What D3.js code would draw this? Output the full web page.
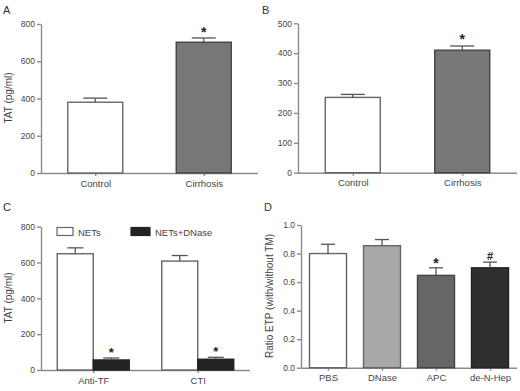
<!DOCTYPE html>
<html><head><meta charset="utf-8">
<script src="https://cdn.jsdelivr.net/npm/d3@7"></script>
<style>body{margin:0;background:#fff}svg{display:block;font-family:"Liberation Sans",Arial,sans-serif}</style>
</head><body><svg id="c" width="520" height="391"></svg>
<script>
// Panel A
const catsA = ["Control", "Cirrhosis"];
const valsA = [380, 702];
const errA = [22, 23];
const ticksA = [0, 200, 400, 600, 800];
// Panel B
const catsB = ["Control", "Cirrhosis"];
const valsB = [252, 410];
const errB = [10, 14];
const ticksB = [0, 100, 200, 300, 400, 500];
// Panel C
const groupsC = ["Anti-TF", "CTI"];
const seriesC = ["NETs", "NETs+DNase"];
const netsC = [649, 608];
const netsErrC = [33, 31];
const dnaseC = [56, 60];
const dnaseErrC = [11, 11];
const ticksC = [0, 200, 400, 600, 800];
// Panel D
const catsD = ["PBS", "DNase", "APC", "de-N-Hep"];
const valsD = [0.80, 0.855, 0.647, 0.70];
const errD = [0.065, 0.043, 0.053, 0.04];
const marksD = ["", "", "*", "#"];
const ticksD = [0, 0.2, 0.4, 0.6, 0.8, 1.0];

const svg = d3.select("#c");
const axisCol = "#8c8c8c", textCol = "#444";

function styleAxis(g){
  g.selectAll("path,line").attr("stroke", axisCol).attr("stroke-width", 1.4);
  g.selectAll("text").attr("fill", textCol);
}

function panel(o){
  const y = d3.scaleLinear().domain(o.ydom).range([o.y0, o.y1]);
  const x = d3.scalePoint().domain(o.cats).range([o.x0, o.x1]).padding(0.5);
  const g = svg.append("g");
  const ya = g.append("g").attr("transform", `translate(${o.x0},0)`)
    .call(d3.axisLeft(y).tickValues(o.ticks).tickSize(4).tickSizeOuter(0).tickPadding(2).tickFormat(o.fmt || d3.format("d")));
  ya.selectAll("text").attr("font-size", 8.5);
  styleAxis(ya);
  const xa = g.append("g").attr("transform", `translate(0,${o.y0})`)
    .call(d3.axisBottom(x).tickSize(3).tickSizeOuter(0).tickPadding(4));
  xa.selectAll("text").attr("font-size", 9.5);
  styleAxis(xa);
  xa.select(".domain").attr("d", `M${o.x0},0.5H${o.x1}`);
  return {g, x, y};
}

function bar(g, cx, w, yv, y0, fill, stroke){
  g.append("rect").attr("x", cx - w/2).attr("y", yv).attr("width", w).attr("height", y0 - yv)
    .attr("fill", fill).attr("stroke", stroke).attr("stroke-width", 1.4);
}
function errbar(g, cx, ytop, yerr, cap){
  g.append("line").attr("x1", cx).attr("x2", cx).attr("y1", ytop).attr("y2", yerr).attr("stroke", "#555").attr("stroke-width", 1.3);
  g.append("line").attr("x1", cx - cap/2).attr("x2", cx + cap/2).attr("y1", yerr).attr("y2", yerr).attr("stroke", "#555").attr("stroke-width", 1.3);
}
function mark(g, cx, yy, t, size){
  g.append("text").attr("x", cx).attr("y", yy).attr("text-anchor", "middle").attr("font-size", size || 14)
    .attr("font-weight", "bold").attr("fill", "#222").text(t);
}
function ylabel(x, cy, t){
  svg.append("text").attr("transform", `translate(${x},${cy}) rotate(-90)`).attr("text-anchor", "middle")
    .attr("font-size", 10).attr("fill", textCol).text(t);
}
function letter(x, y, t){
  svg.append("text").attr("x", x).attr("y", y).attr("font-size", 11).attr("fill", "#333").text(t);
}

// A
{
  const p = panel({ydom:[0,800], y0:173, y1:24, cats:catsA, x0:41, x1:258, ticks:ticksA});
  const fills = ["#fff", "#777"], strokes = ["#666", "#444"];
  catsA.forEach((c,i)=>{
    const cx = p.x(c);
    bar(p.g, cx, 55, p.y(valsA[i]), p.y(0), fills[i], strokes[i]);
    errbar(p.g, cx, p.y(valsA[i]), p.y(valsA[i]+errA[i]), 24);
  });
  mark(p.g, p.x(catsA[1]), p.y(valsA[1]+errA[1]) - 1, "*");
  ylabel(12, 98, "TAT (pg/ml)");
  letter(3, 14, "A");
}
// B
{
  const p = panel({ydom:[0,500], y0:172.7, y1:23.3, cats:catsB, x0:298, x1:517, ticks:ticksB});
  const fills = ["#fff", "#777"], strokes = ["#666", "#444"];
  catsB.forEach((c,i)=>{
    const cx = p.x(c);
    bar(p.g, cx, 55, p.y(valsB[i]), p.y(0), fills[i], strokes[i]);
    errbar(p.g, cx, p.y(valsB[i]), p.y(valsB[i]+errB[i]), 24);
  });
  mark(p.g, p.x(catsB[1]), p.y(valsB[1]+errB[1]) - 2, "*");
  letter(262, 14, "B");
}
// C
{
  const p = panel({ydom:[0,800], y0:370, y1:226.7, cats:groupsC, x0:41, x1:250, ticks:ticksC});
  const w = 36;
  groupsC.forEach((c,i)=>{
    const cx = p.x(c);
    bar(p.g, cx - w/2, w, p.y(netsC[i]), p.y(0), "#fff", "#666");
    errbar(p.g, cx - w/2, p.y(netsC[i]), p.y(netsC[i]+netsErrC[i]), 16);
    bar(p.g, cx + w/2, w, p.y(dnaseC[i]), p.y(0), "#222", "#222");
    errbar(p.g, cx + w/2, p.y(dnaseC[i]), p.y(dnaseC[i]+dnaseErrC[i]), 16);
    mark(p.g, cx + w/2, p.y(dnaseC[i]+dnaseErrC[i]) - 1, "*", 13);
  });
  // legend
  const lg = svg.append("g");
  const lx = [57, 131], lw = [16, 19], lf = ["#fff", "#222"];
  seriesC.forEach((s,i)=>{
    lg.append("rect").attr("x", lx[i]).attr("y", 227.5).attr("width", lw[i]).attr("height", 8)
      .attr("fill", lf[i]).attr("stroke", i ? "#222" : "#666").attr("stroke-width", 1.2);
    lg.append("text").attr("x", lx[i] + lw[i] + 5).attr("y", 235.5).attr("font-size", 9.5).attr("fill", textCol).text(s);
  });
  ylabel(12, 298, "TAT (pg/ml)");
  letter(3, 211, "C");
}
// D
{
  const p = panel({ydom:[0,1], y0:367.7, y1:225, cats:catsD, x0:301, x1:517, ticks:ticksD, fmt:d3.format(".1f")});
  const fills = ["#fff", "#a8a8a8", "#666", "#2f2f2f"], strokes = ["#666", "#666", "#444", "#222"];
  catsD.forEach((c,i)=>{
    const cx = p.x(c);
    bar(p.g, cx, 37, p.y(valsD[i]), p.y(0), fills[i], strokes[i]);
    errbar(p.g, cx, p.y(valsD[i]), p.y(valsD[i]+errD[i]), 14);
    if (marksD[i]) mark(p.g, cx, p.y(valsD[i]+errD[i]) - (marksD[i]==="#" ? 2 : 0), marksD[i], marksD[i]==="#" ? 11 : 14);
  });
  ylabel(273, 296, "Ratio ETP (with/without TM)");
  letter(264, 211, "D");
}
</script></body></html>
